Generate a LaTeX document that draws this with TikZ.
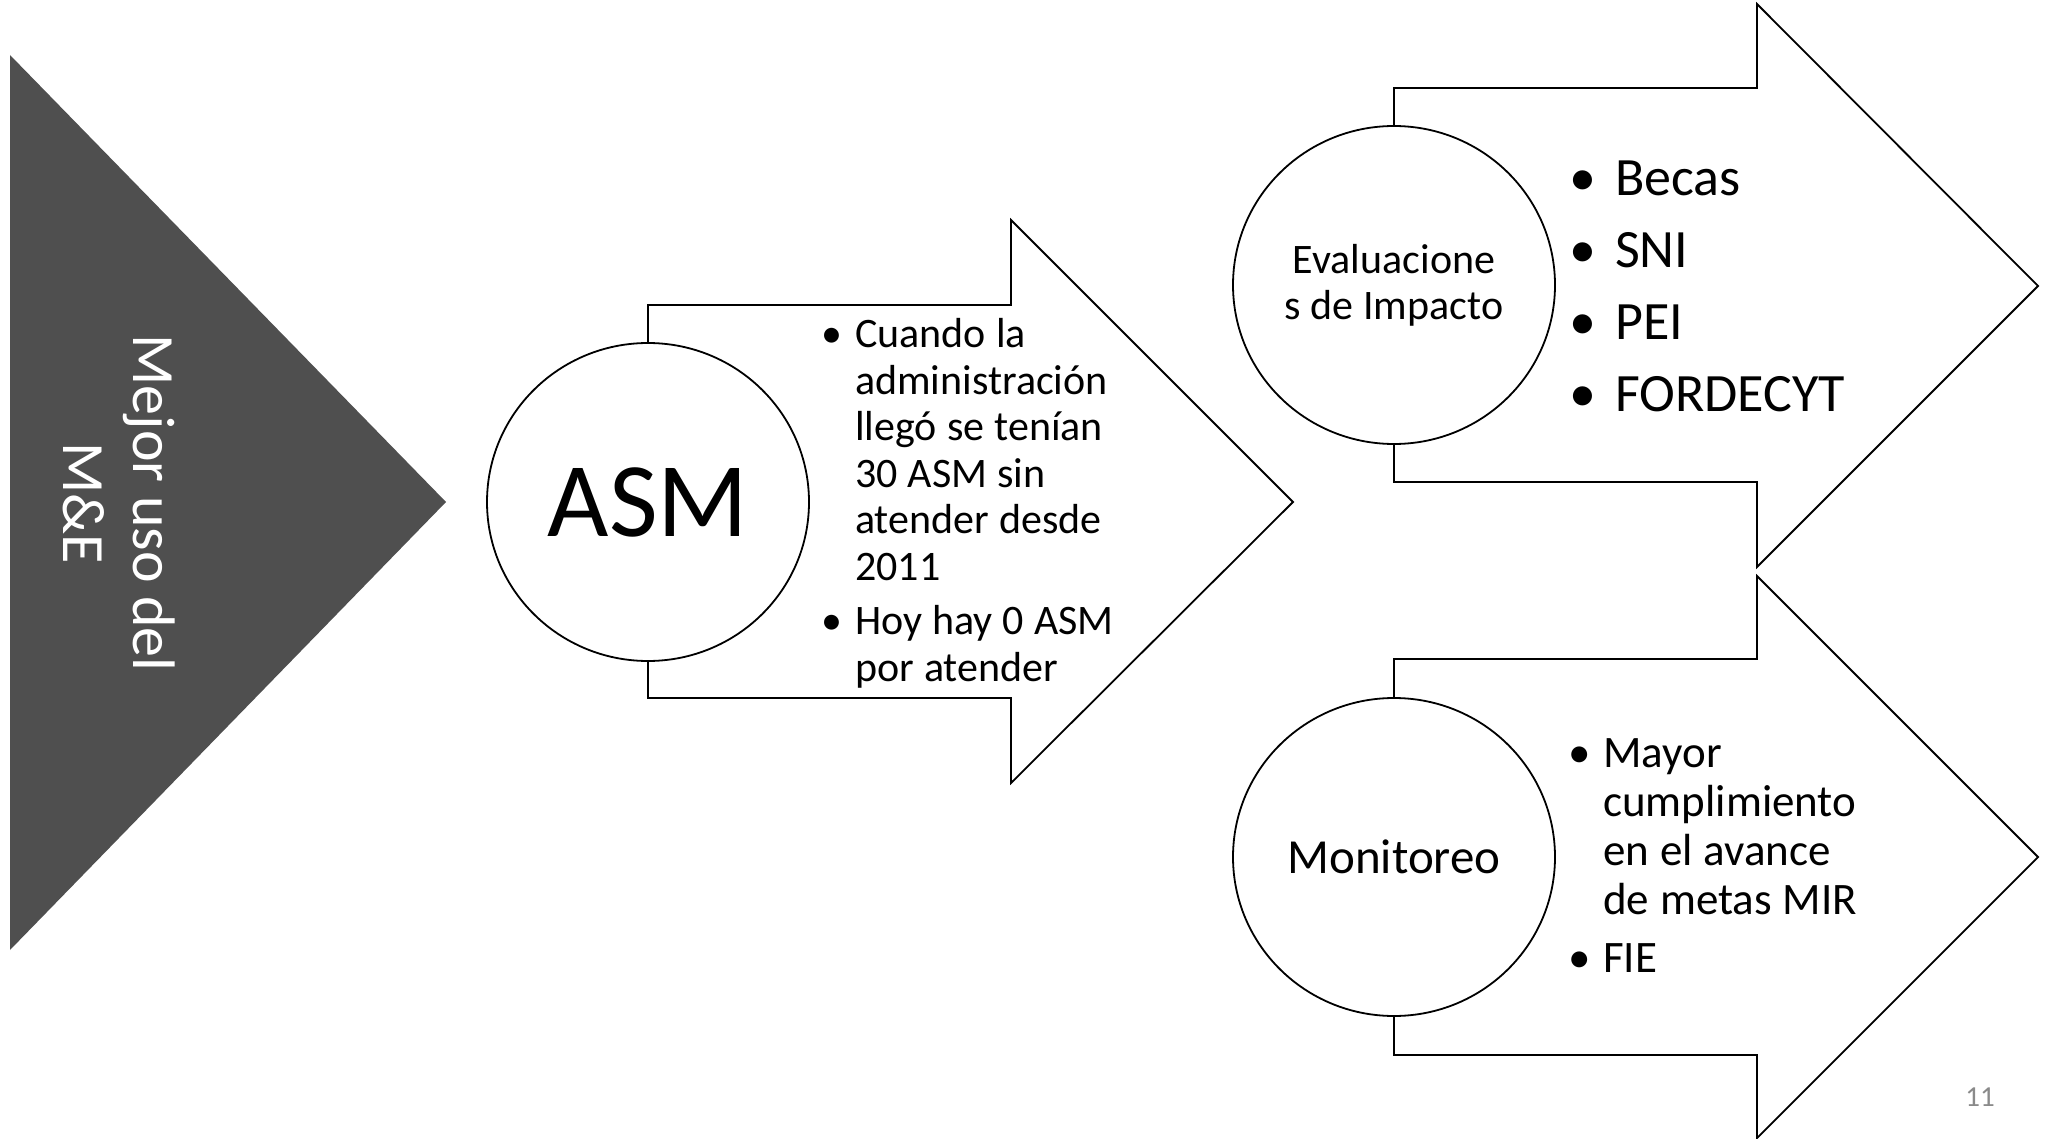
\documentclass[tikz,border=0pt]{standalone}
\usepackage{fontspec}
\usetikzlibrary{shapes.geometric}
\setmainfont{Carlito}
\definecolor{tri}{RGB}{79,79,79}
\definecolor{pgnum}{RGB}{138,138,138}
\newcommand{\bul}[1]{\hangindent=#1\hangafter=1\noindent\makebox[#1][l]{\textbullet}}
\newcommand{\fsz}[2]{\fontsize{#1}{#2}\selectfont}
\begin{document}
\begin{tikzpicture}[x=1pt,y=-1pt,
  arrowshape/.style={draw=black,fill=white,line width=1.8pt,line join=miter},
  circ/.style={draw=black,fill=white,line width=1.8pt,ellipse,minimum width=322pt,minimum height=318pt,inner sep=0pt},
  listnode/.style={anchor=base west,inner sep=0pt,align=left,text width=#1},
]
\useasboundingbox (0,0) rectangle (2054,1139);
\fill[white] (0,0) rectangle (2054,1139);
% left triangle
\fill[tri] (10,55) -- (446,502) -- (10,950) -- cycle;
\node[rotate=-90,text=white,inner sep=0pt,align=center,font=\fsz{60}{70}] (title) at (119,503) {Mejor uso del\\M\&E};
% arrows
\draw[arrowshape] (648,305) -- (1011,305) -- (1011,220) -- (1293,502) -- (1011,783) -- (1011,698) -- (648,698) -- cycle;
\draw[arrowshape] (1394,88) -- (1757,88) -- (1757,4) -- (2038,286) -- (1757,567) -- (1757,482) -- (1394,482) -- cycle;
\draw[arrowshape] (1394,659) -- (1757,659) -- (1757,576) -- (2038,857) -- (1757,1138) -- (1757,1055) -- (1394,1055) -- cycle;
% circles
\node[circ,font=\fsz{106}{120}] (asm) at (648,502) {ASM};
\node[circ,font=\fsz{42}{46},align=center] (eval) at (1394,285) {Evaluacione\\s de Impacto};
\node[circ,font=\fsz{49}{56}] (mon) at (1394,857) {Monitoreo};
% lists
\node[listnode=340pt,font=\fsz{42}{46.5}] (asmlist) at (821,348) {\spaceskip=0.24em\relax\bul{34pt}Cuando la\newline administración\newline llegó se tenían\newline 30 ASM sin\newline atender desde\newline 2011\par\vspace{8pt}\bul{34pt}Hoy hay 0 ASM\newline por atender\par};
\node[listnode=400pt,font=\fsz{54}{72}] (evallist) at (1569,196) {\bul{46pt}Becas\par\bul{46pt}SNI\par\bul{46pt}PEI\par\bul{46pt}FORDECYT\par};
\node[listnode=400pt,font=\fsz{45}{49}] (monlist) at (1568,767) {\spaceskip=0.24em\relax\bul{35pt}Mayor\newline cumplimiento\newline en el avance\newline de metas MIR\par\vspace{9pt}\bul{35pt}FIE\par};
% page number
\node[anchor=base east,inner sep=0pt,text=pgnum,font=\fsz{29}{34}] (page) at (1995,1106) {11};
\end{tikzpicture}
\end{document}
